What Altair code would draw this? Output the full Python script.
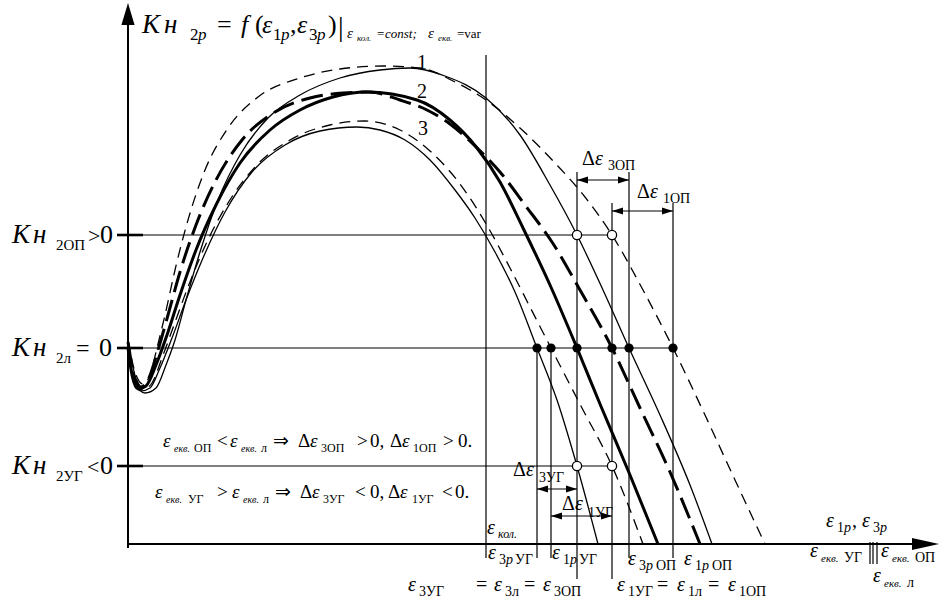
import altair as alt
import pandas as pd

# ---------------- schematic data (units: x = ε axis, y = Кн2p; y = 0 is the Кн2л = 0 level)
# curve 1 (thin solid) and its dashed companion
c1_x = [0, 6, 17, 28, 38, 47, 58, 72, 90, 112, 140, 172, 212, 252, 282, 317, 358, 392, 422, 449, 475, 501, 532, 562, 584]
c1_y = [2, -32, -45, -40, -17, 8, 48, 96, 148, 193, 230, 253, 270, 278, 280, 272, 250, 213, 163, 113, 58, 0, -67, -137, -196]
d1_x = [0, 7, 15, 22, 29, 37, 47, 60, 77, 100, 130, 172, 212, 255, 292, 327, 358, 392, 427, 457, 484, 515, 545, 577, 607, 637]
d1_y = [8, -24, -36, -27, 0, 33, 78, 128, 178, 220, 251, 270, 279, 282, 280, 266, 248, 220, 185, 151, 113, 58, 0, -67, -132, -196]
# curve 2 (thick solid) and thick dashed companion
c2_x = [0, 4, 10, 18, 28, 39, 52, 68, 88, 112, 142, 172, 205, 239, 289, 322, 349, 372, 395, 422, 449, 472, 502, 530]
c2_y = [0, -27, -41, -38, -17, 13, 53, 98, 143, 185, 218, 238, 251, 256, 248, 228, 200, 166, 120, 63, 0, -56, -127, -196]
d2_x = [0, 6, 13, 20, 30, 40, 52, 68, 88, 114, 147, 182, 215, 242, 272, 299, 322, 345, 372, 397, 424, 452, 484, 512, 542, 572]
d2_y = [6, -27, -39, -32, -2, 33, 76, 123, 168, 208, 236, 250, 255, 256, 248, 238, 224, 204, 176, 143, 106, 58, 0, -60, -124, -196]
# curve 3 (thin solid) and its dashed companion
c3_x = [0, 6, 13, 22, 32, 44, 58, 75, 97, 124, 157, 192, 229, 252, 277, 302, 327, 347, 367, 387, 409, 429, 449, 470]
c3_y = [-2, -32, -43, -40, -20, 10, 48, 90, 136, 176, 203, 217, 221, 218, 208, 188, 158, 130, 96, 56, 0, -52, -118, -196]
d3_x = [0, 8, 16, 24, 34, 46, 60, 78, 100, 128, 162, 202, 237, 272, 302, 332, 357, 382, 403, 423, 454, 484, 515]
d3_y = [3, -30, -41, -35, -10, 23, 61, 104, 145, 182, 208, 223, 227, 218, 197, 164, 126, 80, 39, 0, -60, -118, -196]

# levels Кн2ОП > 0, Кн2л = 0, Кн2УГ < 0
level_y = [113, 0, -118]
level_end = [484, 545, 484]
# ε markers on the axis (vertical lines)
v_x = [358, 409, 423, 449, 484, 501, 545]
v_top = [293, 0, 0, 176, 145, 176, 145]
v_bot = [-210, -210, -210, -231, -231, -210, -210]
# intersection points
dot_x = [409, 423, 449, 484, 501, 545]
open_x = [449, 484, 449, 484]
open_y = [113, 113, -118, -118]
# Δε dimension arrows
arr_x0 = [449, 484, 409, 423]
arr_x1 = [501, 545, 449, 484]
arr_y = [168, 137, -141, -168]
# ε_екв marks
eq_x = [742, 745, 749]
X_AXIS_Y = -196
X_AXIS_END = 811
Y_AXIS_TOP = 345

# text pieces: (x, baseline y, text, size, italic)
labels = [
    # title
    (14, 315, "К", 27, 1), (36, 315, "н", 27, 1), (62, 308, "2", 17, 0), (70, 308, "p", 17, 1),
    (89, 315, "=", 26, 0), (113, 315, "f", 26, 1), (127, 315, "(", 26, 0), (134, 315, "ε", 26, 1),
    (145, 308, "1", 17, 0), (153, 308, "p", 17, 1), (162, 315, ",", 26, 0), (169, 315, "ε", 26, 1),
    (181, 308, "3", 17, 0), (189, 308, "p", 17, 1), (200, 315, ")", 26, 0), (210, 312, "|", 28, 0),
    (219, 310, "ε", 15, 1), (229, 307, "кол.", 9, 1), (249, 310, "=", 13, 0), (257, 310, "const;", 13, 1),
    (300, 310, "ε", 15, 1), (310, 307, "екв.", 9, 1), (329, 310, "=var", 13, 0),
    # levels
    (-116, 105, "К", 27, 1), (-95, 105, "н", 27, 1), (-72, 98, "2ОП", 15, 0), (-40, 105, ">", 22, 0), (-28, 105, "0", 26, 0),
    (-116, -8, "К", 27, 1), (-95, -8, "н", 27, 1), (-72, -15, "2л", 15, 0), (-52, -8, "=", 24, 0), (-29, -8, "0", 26, 0),
    (-116, -126, "К", 27, 1), (-95, -126, "н", 27, 1), (-72, -133, "2УГ", 15, 0), (-41, -126, "<", 22, 0), (-28, -126, "0", 26, 0),
    # curve numbers
    (289, 279, "1", 20, 0), (289, 250, "2", 20, 0), (290, 213, "3", 20, 0),
    # Δε labels
    (454, 183, "Δ", 20, 0), (467, 183, "ε", 20, 1), (480, 178, "3ОП", 14, 0),
    (509, 150, "Δ", 20, 0), (522, 150, "ε", 20, 1), (535, 145, "1ОП", 14, 0),
    (385, -128, "Δ", 20, 0), (398, -128, "ε", 20, 1), (411, -134, "3УГ", 14, 0),
    (434, -162, "Δ", 20, 0), (447, -162, "ε", 20, 1), (460, -169, "1УГ", 14, 0),
    # ε_кол.
    (359, -186, "ε", 20, 1), (370, -190, "кол.", 12, 1),
    # bottom row 1
    (360, -211, "ε", 20, 1), (371, -216, "3", 14, 0), (378, -216, "p", 14, 1), (387, -216, "УГ", 14, 0),
    (424, -211, "ε", 20, 1), (435, -216, "1", 14, 0), (442, -216, "p", 14, 1), (451, -216, "УГ", 14, 0),
    (500, -217, "ε", 20, 1), (511, -222, "3", 14, 0), (518, -222, "p", 14, 1), (528, -222, "ОП", 14, 0),
    (556, -217, "ε", 20, 1), (567, -222, "1", 14, 0), (574, -222, "p", 14, 1), (584, -222, "ОП", 14, 0),
    # bottom row 2
    (280, -243, "ε", 20, 1), (291, -248, "3УГ", 14, 0), (348, -243, "=", 20, 0), (366, -243, "ε", 20, 1),
    (377, -248, "3л", 14, 0), (396, -243, "=", 20, 0), (415, -243, "ε", 20, 1), (426, -248, "3ОП", 14, 0),
    (489, -243, "ε", 20, 1), (500, -248, "1УГ", 14, 0), (529, -243, "=", 20, 0), (549, -243, "ε", 20, 1),
    (560, -248, "1л", 14, 0), (580, -243, "=", 20, 0), (600, -243, "ε", 20, 1), (611, -248, "1ОП", 14, 0),
    # right side
    (682, -209, "ε", 20, 1), (693, -214, "екв.", 11, 1), (716, -214, "УГ", 14, 0),
    (753, -209, "ε", 20, 1), (764, -214, "екв.", 11, 1), (787, -214, "ОП", 14, 0),
    (745, -234, "ε", 20, 1), (756, -239, "екв.", 11, 1), (779, -239, "л", 14, 0),
    (698, -179, "ε", 20, 1), (709, -184, "1", 14, 0), (716, -184, "p", 14, 1), (724, -179, ",", 20, 0),
    (734, -179, "ε", 20, 1), (745, -184, "3", 14, 0), (752, -184, "p", 14, 1),
    # inequality 1
    (35, -99, "ε", 19, 1), (46, -104, "екв.", 10, 1), (66, -104, "ОП", 12, 0), (89, -99, "<", 19, 0),
    (102, -99, "ε", 19, 1), (113, -104, "екв.", 10, 1), (133, -104, "л", 12, 0), (145, -99, "⇒", 19, 0),
    (170, -99, "Δ", 19, 0), (182, -99, "ε", 19, 1), (193, -104, "3ОП", 12, 0), (229, -99, ">", 19, 0),
    (242, -99, "0,", 19, 0), (262, -99, "Δ", 19, 0), (274, -99, "ε", 19, 1), (285, -104, "1ОП", 12, 0),
    (315, -99, ">", 19, 0), (330, -99, "0.", 19, 0),
    # inequality 2
    (27, -150, "ε", 19, 1), (38, -155, "екв.", 10, 1), (60, -155, "УГ", 12, 0), (89, -150, ">", 19, 0),
    (104, -150, "ε", 19, 1), (115, -155, "екв.", 10, 1), (135, -155, "л", 12, 0), (147, -150, "⇒", 19, 0),
    (172, -150, "Δ", 19, 0), (184, -150, "ε", 19, 1), (195, -155, "3УГ", 12, 0), (227, -150, "<", 19, 0),
    (242, -150, "0,", 19, 0), (260, -150, "Δ", 19, 0), (272, -150, "ε", 19, 1), (284, -155, "1УГ", 12, 0),
    (314, -150, "<", 19, 0), (327, -150, "0.", 19, 0),
]

# ---------------- scales
XS = alt.Scale(domain=[-128, 812], nice=False, zero=False)
YS = alt.Scale(domain=[-253, 348], nice=False, zero=False)
FONT = "Liberation Serif, Times New Roman, Times, serif"


def X(f="x"):
    return alt.X(f"{f}:Q", scale=XS, axis=None)


def Y(f="y"):
    return alt.Y(f"{f}:Q", scale=YS, axis=None)


curves = {"c1": (c1_x, c1_y), "d1": (d1_x, d1_y), "c2": (c2_x, c2_y),
          "d2": (d2_x, d2_y), "c3": (c3_x, c3_y), "d3": (d3_x, d3_y)}


def curve_df(names):
    rows = []
    for n in names:
        xs, ys = curves[n]
        for i, (a, b) in enumerate(zip(xs, ys)):
            rows.append({"x": a, "y": b, "c": n, "i": i})
    return pd.DataFrame(rows)


def line_layer(names, width, dash=None):
    kw = dict(color="black", strokeWidth=width, interpolate="monotone")
    if dash:
        kw["strokeDash"] = dash
    return alt.Chart(curve_df(names)).mark_line(**kw).encode(
        x=X(), y=Y(), detail="c:N", order="i:Q")


layers = []
layers.append(line_layer(["c1", "c3"], 1.3))
layers.append(line_layer(["c2"], 3.0))
layers.append(line_layer(["d1", "d3"], 1.3, [11, 7]))
layers.append(line_layer(["d2"], 3.0, [22, 8]))

# horizontal level lines
hdf = pd.DataFrame({"y": level_y, "x": [-10] * 3, "x2": level_end})
layers.append(alt.Chart(hdf).mark_rule(color="black", strokeWidth=1.2).encode(
    x=X(), x2=alt.X2("x2:Q"), y=Y()))
# ticks on the y axis
tdf = pd.DataFrame({"y": level_y, "x": [-11] * 3, "x2": [15] * 3})
layers.append(alt.Chart(tdf).mark_rule(color="black", strokeWidth=2.6).encode(
    x=X(), x2=alt.X2("x2:Q"), y=Y()))
# vertical marker lines
vdf = pd.DataFrame({"x": v_x, "y": v_top, "y2": v_bot})
layers.append(alt.Chart(vdf).mark_rule(color="black", strokeWidth=1.2).encode(
    x=X(), y=Y(), y2=alt.Y2("y2:Q")))
# triple mark of ε_екв
edf = pd.DataFrame({"x": eq_x, "y": [-194] * 3, "y2": [-216] * 3})
layers.append(alt.Chart(edf).mark_rule(color="black", strokeWidth=1.2).encode(
    x=X(), y=Y(), y2=alt.Y2("y2:Q")))
# axes
layers.append(alt.Chart(pd.DataFrame({"x": [0], "y": [-200], "y2": [Y_AXIS_TOP - 15]})).mark_rule(
    color="black", strokeWidth=2).encode(x=X(), y=Y(), y2=alt.Y2("y2:Q")))
layers.append(alt.Chart(pd.DataFrame({"x": [0], "x2": [X_AXIS_END - 20], "y": [X_AXIS_Y]})).mark_rule(
    color="black", strokeWidth=2).encode(x=X(), x2=alt.X2("x2:Q"), y=Y()))
layers.append(alt.Chart(pd.DataFrame({"x": [0], "y": [Y_AXIS_TOP]})).mark_point(
    shape="M0,0L-0.3,1L0.3,1Z", size=1936, filled=True, color="black", opacity=1).encode(x=X(), y=Y()))
layers.append(alt.Chart(pd.DataFrame({"x": [X_AXIS_END], "y": [X_AXIS_Y]})).mark_point(
    shape="M0,0L-1,-0.22L-1,0.22Z", size=2916, filled=True, color="black", opacity=1).encode(x=X(), y=Y()))

# Δε arrows
adf = pd.DataFrame({"x": arr_x0, "x2": arr_x1, "y": arr_y})
layers.append(alt.Chart(adf).mark_rule(color="black", strokeWidth=1.2).encode(
    x=X(), x2=alt.X2("x2:Q"), y=Y()))
layers.append(alt.Chart(adf).mark_point(shape="M0,0L1,-0.32L1,0.32Z", size=484, filled=True,
                                        color="black", opacity=1).encode(x=X("x"), y=Y()))
layers.append(alt.Chart(adf).mark_point(shape="M0,0L-1,-0.32L-1,0.32Z", size=484, filled=True,
                                        color="black", opacity=1).encode(x=X("x2"), y=Y()))

# intersection dots
layers.append(alt.Chart(pd.DataFrame({"x": dot_x, "y": [0] * len(dot_x)})).mark_circle(
    size=85, color="black", opacity=1).encode(x=X(), y=Y()))
layers.append(alt.Chart(pd.DataFrame({"x": open_x, "y": open_y})).mark_point(
    shape="circle", size=85, filled=True, fill="white", stroke="black", strokeWidth=1.3,
    opacity=1).encode(x=X(), y=Y()))

# text
lab = pd.DataFrame(labels, columns=["x", "y", "t", "s", "it"])
for italic in (0, 1):
    layers.append(alt.Chart(lab[lab["it"] == italic]).mark_text(
        font=FONT, align="left", baseline="alphabetic", color="black",
        fontStyle="italic" if italic else "normal").encode(
        x=X(), y=Y(), text="t:N", size=alt.Size("s:Q", scale=None, legend=None)))

chart = alt.layer(*layers).properties(
    width=940, height=601, autosize=alt.AutoSizeParams(type="none"), padding=0,
    background="white").configure_view(stroke=None)

chart.save("out.html", embed_options={"renderer": "svg", "actions": False})
